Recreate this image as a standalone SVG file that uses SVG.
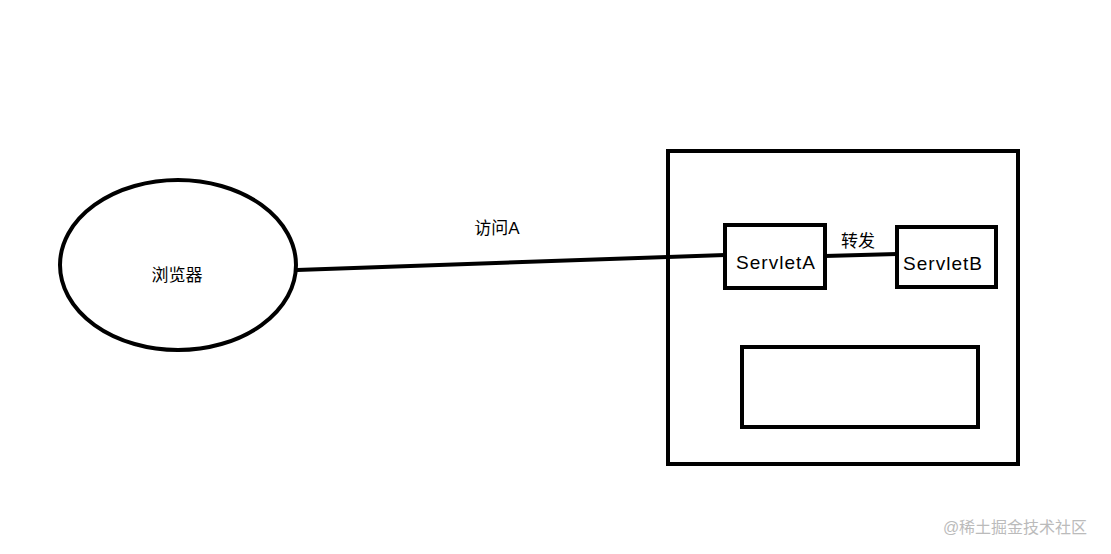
<svg xmlns="http://www.w3.org/2000/svg" width="1111" height="554" viewBox="0 0 1111 554">
<style>
.s{fill:none;stroke:#000;stroke-width:4}
text{font-family:"Liberation Sans","Noto Sans CJK SC",sans-serif;font-size:17px;fill:#000;text-anchor:middle}
.n{font-size:19px;letter-spacing:1px}
</style>
<rect width="1111" height="554" fill="#fff"/>
<g id="browser"><ellipse class="s" cx="178" cy="265" rx="118" ry="85"/><text x="177" y="281">浏览器</text></g>
<g id="server"><rect class="s" x="668" y="151" width="350" height="313"/></g>
<g id="servletA"><rect class="s" x="725" y="225" width="100" height="63"/><text class="n" x="776" y="269">ServletA</text></g>
<g id="servletB"><rect class="s" x="897" y="227" width="99" height="60"/><text class="n" x="943" y="270">ServletB</text></g>
<g id="box"><rect class="s" x="742" y="347" width="236" height="80"/></g>
<g id="connectors">
<line class="s" x1="297" y1="270" x2="725" y2="255"/>
<line class="s" x1="825" y1="256" x2="897" y2="254"/>
<text x="497" y="234">访问A</text>
<text x="858" y="247">转发</text>
</g>
<text x="1015" y="533" style="font-size:16px;fill:#bbb">@稀土掘金技术社区</text>
</svg>
